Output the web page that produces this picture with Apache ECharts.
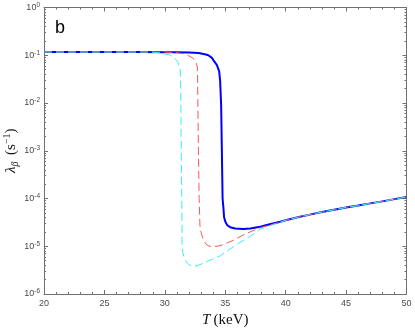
<!DOCTYPE html>
<html><head><meta charset="utf-8">
<script src="https://cdn.jsdelivr.net/npm/echarts@6/dist/echarts.min.js"></script>
<style>html,body{margin:0;padding:0;background:#fff}#c{width:415px;height:330px}</style>
</head><body><div id="c"></div>
<script>
// Data (T in keV, lambda_beta in s^-1)
const blueT = [20, 25, 28, 30, 31, 32, 32.8, 33.0, 33.4, 33.6, 33.9, 34.06, 34.3, 34.5, 34.58, 34.66, 34.72, 34.78, 34.86, 34.9, 35.0, 35.16, 35.41, 35.82, 36.49, 37.07, 37.9, 38.6, 39.55, 40, 41, 42, 43, 44, 45, 46, 47, 48, 49, 50];
const blueV = [0.117, 0.117, 0.117, 0.116, 0.115, 0.114, 0.111, 0.109, 0.104, 0.1, 0.088, 0.076, 0.063, 0.046, 0.028, 0.009, 1e-3, 1e-4, 5.9e-5, 4.1e-5, 3.3e-5, 2.77e-5, 2.5e-5, 2.35e-5, 2.3e-5, 2.35e-5, 2.57e-5, 2.85e-5, 3.25e-5, 3.5e-5, 4.05e-5, 4.6e-5, 5.2e-5, 5.8e-5, 6.5e-5, 7.1e-5, 7.9e-5, 8.7e-5, 9.7e-5, 1.07e-4];
const redT = [20, 25, 28, 30, 31, 31.7, 32.1, 32.35, 32.5, 32.63, 32.7, 32.73, 32.78, 32.84, 32.88, 32.9, 32.99, 33.2, 33.42, 33.67, 34.0, 34.33, 34.75, 35.16, 35.8, 36.5, 37.9, 38.7, 39.96, 41, 42, 43, 44, 45, 46, 47, 48, 49, 50];
const redV = [0.117, 0.117, 0.117, 0.116, 0.113, 0.106, 0.094, 0.086, 0.08, 0.066, 0.054, 0.012, 1e-3, 1e-4, 4.7e-5, 2.8e-5, 2.0e-5, 1.35e-5, 1.1e-5, 1.0e-5, 9.9e-6, 1.0e-5, 1.07e-5, 1.17e-5, 1.38e-5, 1.74e-5, 2.45e-5, 2.78e-5, 3.45e-5, 4.05e-5, 4.6e-5, 5.2e-5, 5.8e-5, 6.5e-5, 7.1e-5, 7.9e-5, 8.7e-5, 9.7e-5, 1.07e-4];
const cyanT = [20, 25, 28, 29, 29.5, 30, 30.4, 30.8, 31.1, 31.27, 31.32, 31.36, 31.4, 31.43, 31.47, 31.6, 31.77, 32.0, 32.34, 32.67, 33.17, 33.9, 34.58, 35.96, 37.07, 37.9, 39.0, 40, 41, 42, 43, 44, 45, 46, 47, 48, 49, 50];
const cyanV = [0.117, 0.117, 0.117, 0.116, 0.113, 0.107, 0.101, 0.088, 0.07, 0.05, 0.02, 1e-3, 1e-4, 1.07e-5, 7.8e-6, 5.9e-6, 4.7e-6, 4.1e-6, 3.8e-6, 3.9e-6, 4.4e-6, 5.3e-6, 6.3e-6, 1.1e-5, 1.62e-5, 2.3e-5, 2.85e-5, 3.5e-5, 4.05e-5, 4.6e-5, 5.2e-5, 5.8e-5, 6.5e-5, 7.1e-5, 7.9e-5, 8.7e-5, 9.7e-5, 1.07e-4];
const xTicks = [20, 25, 30, 35, 40, 45, 50];
const yMajor = [1e-6, 1e-5, 1e-4, 1e-3, 1e-2, 1e-1, 1];
const yMinorMult = [2, 3, 4, 5, 6, 7, 8, 9];
const panelLabel = 'b';

const yMinor = [];
for (let i = 0; i < yMajor.length - 1; i++) yMinorMult.forEach(m => yMinor.push(+(yMajor[i] * m).toPrecision(3)));

const pairs = (t, v) => t.map((x, i) => [x, v[i]]);
const axisCol = '#707070';
const labCol = '#4a4a4a';
const sans = 'Liberation Sans, Arial, sans-serif';
const serif = 'Liberation Serif, DejaVu Serif, serif';

function yAx(pos, custom, len, showLine, showLabel) {
  return {
    type: 'log', logBase: 10, min: 1e-6, max: 1, position: pos, gridIndex: 0,
    axisLine: {show: showLine, lineStyle: {color: axisCol, width: 1}},
    axisTick: {show: true, inside: true, length: len, customValues: custom, lineStyle: {color: axisCol, width: 1}},
    axisLabel: {show: showLabel, customValues: yMajor, margin: 4, color: labCol,
      formatter: v => '{b|10}{s|' + Math.round(Math.log10(v)) + '}',
      rich: {b: {fontSize: 9, fontFamily: sans, color: labCol, lineHeight: 12},
             s: {fontSize: 6.5, fontFamily: sans, color: labCol, verticalAlign: 'top', lineHeight: 8}}},
    splitLine: {show: false}, minorTick: {show: false}, minorSplitLine: {show: false}
  };
}
function xAx(pos, showLabel) {
  return {
    type: 'value', min: 20, max: 50, interval: 5, position: pos, gridIndex: 0,
    axisLine: {show: true, onZero: false, lineStyle: {color: axisCol, width: 1}},
    axisTick: {show: true, inside: true, length: 4, customValues: xTicks, lineStyle: {color: axisCol, width: 1}},
    minorTick: {show: true, splitNumber: 5, length: 2, lineStyle: {color: axisCol, width: 1}},
    axisLabel: {show: showLabel, margin: 5, fontSize: 9, fontFamily: sans, color: labCol},
    splitLine: {show: false}, minorSplitLine: {show: false}
  };
}

const chart = echarts.init(document.getElementById('c'), null, {renderer: 'canvas'});
const x0 = xAx('bottom', true);
x0.name = '{i|T} {n|(keV)}';
x0.nameLocation = 'middle';
x0.nameGap = 17;
x0.nameTextStyle = {rich: {i: {fontSize: 15, fontStyle: 'italic', fontFamily: serif, color: '#111'},
                           n: {fontSize: 15, fontFamily: serif, color: '#111'}}};
const y0 = yAx('left', yMajor, 4, true, true);
y0.name = '{l|λ}{sub|β}  {n|(s}{sup|−1}{n|)}';
y0.nameLocation = 'middle';
y0.nameRotate = 90;
y0.nameGap = 24;
y0.nameMoveOverlap = false;
y0.nameTextStyle = {rich: {
  l: {fontSize: 15, fontStyle: 'italic', fontFamily: serif, color: '#111', lineHeight: 18},
  sub: {fontSize: 10, fontStyle: 'italic', fontFamily: serif, color: '#111', verticalAlign: 'bottom', lineHeight: 12},
  n: {fontSize: 15, fontFamily: serif, color: '#111', lineHeight: 18},
  sup: {fontSize: 10, fontFamily: serif, color: '#111', verticalAlign: 'top', lineHeight: 12}}};

chart.setOption({
  animation: false,
  backgroundColor: '#fff',
  title: {text: panelLabel, left: 55, top: 19, padding: 0, textStyle: {fontSize: 18, fontWeight: 'normal', fontFamily: sans, color: '#000'}},
  grid: {left: 44, right: 8.5, top: 7.5, bottom: 36, containLabel: false, outerBoundsMode: 'none'},
  xAxis: [x0, xAx('top', false)],
  yAxis: [y0, yAx('left', yMinor, 2, false, false), yAx('right', yMajor, 4, true, false), yAx('right', yMinor, 2, false, false)],
  series: [
    {type: 'line', data: pairs(blueT, blueV), xAxisIndex: 0, yAxisIndex: 0, showSymbol: false, smooth: false,
     lineStyle: {color: '#0000ff', width: 2, join: 'round'}, z: 2},
    {type: 'line', data: pairs(redT, redV), xAxisIndex: 0, yAxisIndex: 0, showSymbol: false, smooth: false,
     lineStyle: {color: '#f55a5a', width: 1, type: [8, 4]}, z: 3},
    {type: 'line', data: pairs(cyanT, cyanV), xAxisIndex: 0, yAxisIndex: 0, showSymbol: false, smooth: false,
     lineStyle: {color: '#33f0f0', width: 1, type: [8, 4]}, z: 4}
  ]
});
</script></body></html>
